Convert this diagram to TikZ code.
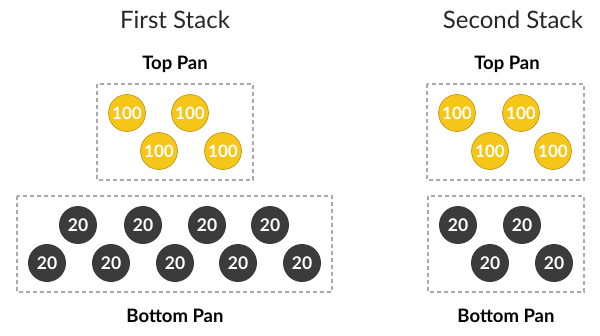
\documentclass[tikz,border=0pt]{standalone}
\usepackage{fontspec}
\setmainfont{Lato}
\definecolor{gold}{HTML}{F5C518}
\definecolor{goldedge}{HTML}{B8930C}
\definecolor{darkcoin}{HTML}{3B3B3B}
\definecolor{pangray}{HTML}{AAAAAA}
\begin{document}
\begin{tikzpicture}[x=1pt,y=-1pt,
  title/.style={font=\fontsize{24}{26}\selectfont, text=black!85},
  panlabel/.style={font=\fontsize{18.5}{20}\selectfont\bfseries, text=black},
  panbox/.style={draw=pangray, line width=1.2pt, dash pattern=on 4pt off 3pt},
  bigcoin/.style={circle, fill=gold, draw=goldedge, line width=0.6pt, minimum size=37pt, inner sep=0pt,
     font=\fontsize{17}{17}\selectfont\bfseries, text=white},
  smallcoin/.style={circle, fill=darkcoin, minimum size=38pt, inner sep=0pt,
     font=\fontsize{17.5}{17.5}\selectfont\bfseries, text=white}]
\useasboundingbox (0,0) rectangle (600,335);
% titles
\node[title] (t1) at (175,20) {First Stack};
\node[title] (t2) at (513,20) {Second Stack};
\node[panlabel] (tp1) at (175,64) {Top Pan};
\node[panlabel] (tp2) at (507,64) {Top Pan};
\node[panlabel] (bp1) at (175,316) {Bottom Pan};
\node[panlabel] (bp2) at (506,316) {Bottom Pan};
% boxes
\draw[panbox] (97,84) rectangle (253,180);
\draw[panbox] (17,196) rectangle (332,292);
\draw[panbox] (427,84) rectangle (584,180);
\draw[panbox] (428,196) rectangle (584,292);
% first stack top coins
\node[bigcoin] (a1) at (127,113) {100};
\node[bigcoin] (a2) at (190,113) {100};
\node[bigcoin] (a3) at (159,151) {100};
\node[bigcoin] (a4) at (223,151) {100};
% first stack bottom coins
\node[smallcoin] (b1) at (78,225) {20};
\node[smallcoin] (b2) at (143,225) {20};
\node[smallcoin] (b3) at (207,225) {20};
\node[smallcoin] (b4) at (270,225) {20};
\node[smallcoin] (b5) at (47,263) {20};
\node[smallcoin] (b6) at (111,263) {20};
\node[smallcoin] (b7) at (175,263) {20};
\node[smallcoin] (b8) at (238,263) {20};
\node[smallcoin] (b9) at (302,263) {20};
% second stack top coins
\node[bigcoin] (c1) at (457,113) {100};
\node[bigcoin] (c2) at (521,113) {100};
\node[bigcoin] (c3) at (490,151) {100};
\node[bigcoin] (c4) at (553,151) {100};
% second stack bottom coins
\node[smallcoin] (d1) at (458,225) {20};
\node[smallcoin] (d2) at (522,225) {20};
\node[smallcoin] (d3) at (490,263) {20};
\node[smallcoin] (d4) at (554,263) {20};
\end{tikzpicture}
\end{document}
